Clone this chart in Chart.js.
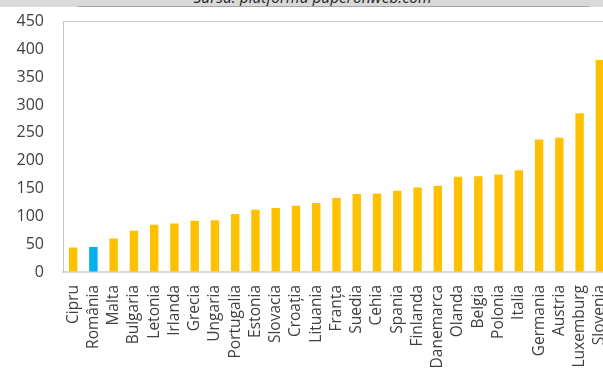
<!DOCTYPE html>
<html>
<head>
<meta charset="utf-8">
<script src="https://cdn.jsdelivr.net/npm/chart.js@4"></script>
<style>
  html, body { margin: 0; padding: 0; background: #fff; overflow: hidden; width: 603px; height: 372px; }
  #wrap { position: absolute; left: 0; top: 0; width: 610px; height: 372px; }
  #sursa {
    position: absolute; left: 0; top: 0; width: 603px; height: 7px;
    background: #d9d9d9; overflow: hidden; z-index: 2;
  }
  #sursa .line { position: absolute; left: 78px; width: 511px; top: 6px; height: 1px; background: #a6a6a6; }
  #sursa .txt {
    position: absolute; left: 0; width: 625px; top: -14px; text-align: center;
    font: italic 15.5px "Open Sans", sans-serif; color: #262626; white-space: nowrap;
  }
</style>
</head>
<body>
<div id="sursa"><div class="txt">Sursa: platforma paperonweb.com</div><div class="line"></div></div>
<div id="wrap"><canvas id="chart" width="610" height="372"></canvas></div>
<script>
const tari = ['Cipru', 'România', 'Malta', 'Bulgaria', 'Letonia', 'Irlanda', 'Grecia', 'Ungaria',
    'Portugalia', 'Estonia', 'Slovacia', 'Croația', 'Lituania', 'Franța', 'Suedia', 'Cehia',
    'Spania', 'Finlanda', 'Danemarca', 'Olanda', 'Belgia', 'Polonia', 'Italia', 'Germania',
    'Austria', 'Luxemburg', 'Slovenia'];
const valori = [44, 45, 60, 74, 85, 87, 92, 93, 104, 112, 115, 119, 124, 133, 140, 141,
    146, 152, 155, 171, 172, 175, 183, 238, 241, 285, 381];
const evidentiat = 'România';

const galben = '#FFC000';
const albastru = '#00B0F0';
const culori = tari.map(t => t === evidentiat ? albastru : galben);

const ctx = document.getElementById('chart').getContext('2d');
new Chart(ctx, {
    type: 'bar',
    data: {
        labels: tari,
        datasets: [{
            data: valori,
            backgroundColor: culori,
            borderWidth: 0,
            barPercentage: 0.415,
            categoryPercentage: 1
        }]
    },
    options: {
        responsive: false,
        animation: false,
        layout: { padding: { top: 21.5, right: 0, bottom: 0, left: 0 } },
        plugins: {
            legend: { display: false },
            tooltip: { enabled: false }
        },
        scales: {
            x: {
                grid: { display: false, drawTicks: false },
                border: { color: '#d9d9d9', width: 2 },
                ticks: {
                    autoSkip: false,
                    minRotation: 90,
                    maxRotation: 90,
                    padding: 13,
                    color: '#404040',
                    font: { family: 'Open Sans', size: 15.5 }
                },
                // plot runs past the right edge like the cropped original
                afterFit: s => { s.height = 100; s.paddingLeft = 0; s.paddingRight = 0; }
            },
            y: {
                min: 0,
                max: 450,
                grid: {
                    drawTicks: false,
                    color: c => c.tick && c.tick.value === 450 ? '#c8c8c8' : 'rgba(0,0,0,0)'
                },
                border: { color: '#c8c8c8', width: 1 },
                ticks: {
                    stepSize: 50,
                    padding: 19,
                    color: '#404040',
                    font: { family: 'Open Sans', size: 16 }
                },
                afterFit: s => { s.width = 63; s.paddingTop = 0; s.paddingBottom = 0; }
            }
        }
    }
});
</script>
</body>
</html>
